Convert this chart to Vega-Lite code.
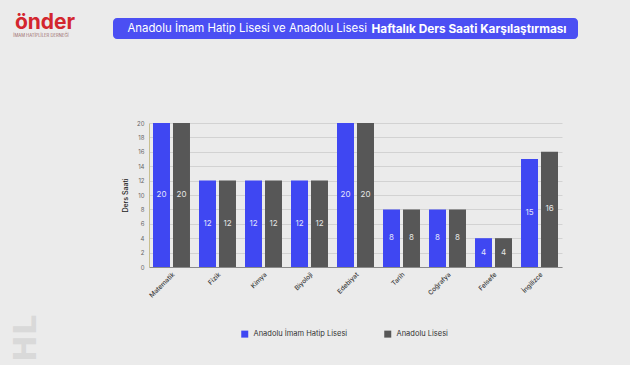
{
  "$schema": "https://vega.github.io/schema/vega-lite/v6.json",
  "background": "#ebebeb",
  "padding": {"left": 10, "top": 12, "right": 52, "bottom": 3},
  "config": {"font": "Inter", "view": {"stroke": null}},
  "columns": 1,
  "align": "none",
  "spacing": 81,
  "resolve": {"scale": {"color": "independent"}, "legend": {"color": "independent"}},
  "concat": [
    {
      "spacing": 35,
      "hconcat": [
        {
          "width": 66,
          "height": 21,
          "data": {"values": [{"brand": "önder", "tag": "İMAM HATİPLİLER DERNEĞİ"}]},
          "layer": [
            {
              "mark": {"type": "text", "fontSize": 21, "fontWeight": "bold", "color": "#d3262e", "baseline": "alphabetic", "dy": 0.5},
              "encoding": {"text": {"field": "brand"}}
            },
            {
              "mark": {"type": "text", "fontSize": 4.2, "color": "#9a6a6a", "dx": -4, "dy": 7.5},
              "encoding": {"text": {"field": "tag"}}
            }
          ]
        },
        {
          "width": 465,
          "height": 21,
          "view": {"fill": "#4b4ff3", "cornerRadius": 4, "stroke": null},
          "data": {"values": [{"a": "Anadolu İmam Hatip Lisesi ve Anadolu Lisesi", "b": "Haftalık Ders Saati Karşılaştırması"}]},
          "layer": [
            {
              "mark": {"type": "text", "align": "right", "dx": 21.5, "fontSize": 11.4, "color": "white"},
              "encoding": {"text": {"field": "a"}}
            },
            {
              "mark": {"type": "text", "align": "left", "dx": 26, "fontSize": 11.8, "fontWeight": "bold", "color": "white"},
              "encoding": {"text": {"field": "b"}}
            }
          ]
        }
      ]
    },
    {
      "spacing": 79,
      "resolve": {"scale": {"color": "independent"}, "legend": {"color": "independent"}},
      "hconcat": [
        {
          "width": 28,
          "height": 239,
          "data": {"values": [{"wm": "HL"}]},
          "mark": {"type": "text", "angle": 270, "align": "left", "baseline": "middle", "fontSize": 32, "fontWeight": "bold", "font": "DejaVu Sans", "color": "#d9d9d9"},
          "encoding": {"text": {"field": "wm"}, "y": {"value": "height"}}
        },
        {
          "width": 413,
          "height": 144,
          "data": {
            "values": [
              {"subject": "Matematik", "school": "Anadolu İmam Hatip Lisesi", "v": 20},
              {"subject": "Matematik", "school": "Anadolu Lisesi", "v": 20},
              {"subject": "Fizik", "school": "Anadolu İmam Hatip Lisesi", "v": 12},
              {"subject": "Fizik", "school": "Anadolu Lisesi", "v": 12},
              {"subject": "Kimya", "school": "Anadolu İmam Hatip Lisesi", "v": 12},
              {"subject": "Kimya", "school": "Anadolu Lisesi", "v": 12},
              {"subject": "Biyoloji", "school": "Anadolu İmam Hatip Lisesi", "v": 12},
              {"subject": "Biyoloji", "school": "Anadolu Lisesi", "v": 12},
              {"subject": "Edebiyat", "school": "Anadolu İmam Hatip Lisesi", "v": 20},
              {"subject": "Edebiyat", "school": "Anadolu Lisesi", "v": 20},
              {"subject": "Tarih", "school": "Anadolu İmam Hatip Lisesi", "v": 8},
              {"subject": "Tarih", "school": "Anadolu Lisesi", "v": 8},
              {"subject": "Coğrafya", "school": "Anadolu İmam Hatip Lisesi", "v": 8},
              {"subject": "Coğrafya", "school": "Anadolu Lisesi", "v": 8},
              {"subject": "Felsefe", "school": "Anadolu İmam Hatip Lisesi", "v": 4},
              {"subject": "Felsefe", "school": "Anadolu Lisesi", "v": 4},
              {"subject": "İngilizce", "school": "Anadolu İmam Hatip Lisesi", "v": 15},
              {"subject": "İngilizce", "school": "Anadolu Lisesi", "v": 16}
            ]
          },
          "resolve": {"scale": {"y": "independent"}},
          "encoding": {
            "x": {
              "field": "subject",
              "type": "nominal",
              "sort": null,
              "scale": {"paddingInner": 0.196, "paddingOuter": 0.087},
              "axis": {"title": null, "labelAngle": -45, "labelFontSize": 6.5, "labelColor": "#3a3a3a", "labelFontWeight": 500, "ticks": false, "domainColor": "#8a8a8a", "labelPadding": 4}
            },
            "xOffset": {
              "field": "school",
              "type": "nominal",
              "sort": ["Anadolu İmam Hatip Lisesi", "Anadolu Lisesi"],
              "scale": {"paddingInner": 0.15}
            }
          },
          "layer": [
            {
              "mark": {"type": "bar"},
              "encoding": {
                "y": {
                  "field": "v",
                  "type": "quantitative",
                  "scale": {"domain": [0, 20], "nice": false},
                  "axis": {"title": "Ders Saati", "values": [0, 2, 4, 6, 8, 10, 12, 14, 16, 18, 20], "grid": true, "gridColor": "#d2d2d2", "domainColor": "#c8bf8f", "ticks": false, "labelFontSize": 6, "labelColor": "#666666", "labelPadding": 5, "titleFontSize": 7, "titleFontWeight": 500, "titleColor": "#222222", "titlePadding": 8}
                },
                "color": {
                  "field": "school",
                  "type": "nominal",
                  "scale": {"domain": ["Anadolu İmam Hatip Lisesi", "Anadolu Lisesi"], "range": ["#3f47f2", "#575757"]},
                  "legend": {"title": null, "orient": "none", "legendX": 92, "legendY": 207, "direction": "horizontal", "symbolType": "square", "symbolSize": 49, "symbolStrokeWidth": 0, "labelFontSize": 7.5, "labelColor": "#333333", "columnPadding": 36, "labelOffset": 5}
                }
              }
            },
            {
              "mark": {"type": "text", "color": "white", "opacity": 0.85, "fontSize": 8, "baseline": "middle"},
              "encoding": {
                "y": {"field": "v", "type": "quantitative", "scale": {"domain": [0, 40], "nice": false}, "axis": null},
                "text": {"field": "v", "type": "quantitative"}
              }
            }
          ]
        }
      ]
    }
  ]
}
